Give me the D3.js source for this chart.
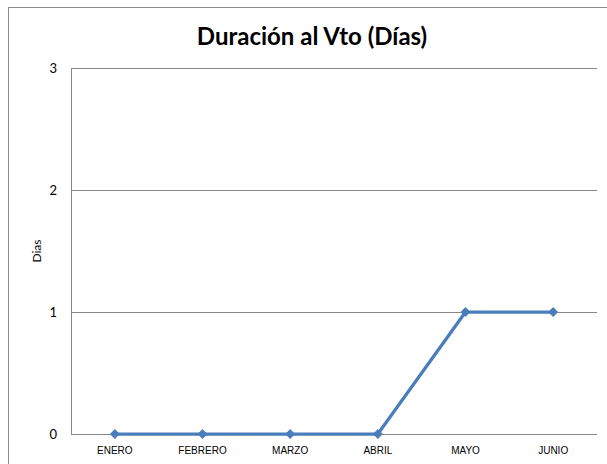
<!DOCTYPE html>
<html>
<head>
<meta charset="utf-8">
<script src="https://cdn.jsdelivr.net/npm/d3@7"></script>
<style>
  body { margin: 0; background: #fff; }
  svg { display: block; }
</style>
</head>
<body>
<div id="chart"></div>
<script>
const width = 607;
const height = 464;

// datos
const meses = ["ENERO", "FEBRERO", "MARZO", "ABRIL", "MAYO", "JUNIO"];
const dias = [0, 0, 0, 0, 1, 1];
const yTicks = [0, 1, 2, 3];

const margin = { top: 68, right: 10, bottom: 30, left: 71 };
const plotW = 526;
const plotH = 366;

const svg = d3.select("#chart")
  .append("svg")
  .attr("width", width)
  .attr("height", height);

// borde exterior (cortado por la imagen)
svg.append("rect")
  .attr("x", 8.5)
  .attr("y", 7.5)
  .attr("width", 640)
  .attr("height", 500)
  .attr("fill", "none")
  .attr("stroke", "#8c8c8c")
  .attr("stroke-width", 1);

const g = svg.append("g")
  .attr("transform", `translate(${margin.left},${margin.top})`);

const x = d3.scaleBand()
  .domain(meses)
  .range([0, plotW]);

const y = d3.scaleLinear()
  .domain([0, 3])
  .range([plotH, 0]);

// lineas de grilla
g.selectAll("line.grid")
  .data(yTicks)
  .enter()
  .append("line")
  .attr("class", "grid")
  .attr("x1", 0)
  .attr("x2", plotW)
  .attr("y1", d => Math.round(y(d)) + 0.5)
  .attr("y2", d => Math.round(y(d)) + 0.5)
  .attr("stroke", "#888")
  .attr("stroke-width", 1);

// eje vertical
g.append("line")
  .attr("x1", 0.5).attr("x2", 0.5)
  .attr("y1", 0).attr("y2", plotH)
  .attr("stroke", "#888");

// etiquetas eje y
g.selectAll("text.ytick")
  .data(yTicks)
  .enter()
  .append("text")
  .attr("x", -14)
  .attr("y", d => y(d))
  .attr("dy", "0.35em")
  .attr("text-anchor", "end")
  .style("font-family", "Lato, 'Open Sans', sans-serif")
  .style("font-size", "13px")
  .attr("fill", "#000")
  .text(d => d);

// etiquetas eje x
g.selectAll("text.xtick")
  .data(meses)
  .enter()
  .append("text")
  .attr("x", d => x(d) + x.bandwidth() / 2)
  .attr("y", plotH + 20)
  .attr("text-anchor", "middle")
  .style("font-family", "'Liberation Sans Narrow', 'Liberation Sans', sans-serif")
  .style("font-size", "10px")
  .attr("fill", "#000")
  .text(d => d);

// titulo eje y
svg.append("text")
  .attr("transform", `translate(41, ${margin.top + plotH / 2}) rotate(-90)`)
  .attr("text-anchor", "middle")
  .style("font-family", "Lato, 'Open Sans', sans-serif")
  .style("font-size", "12px")
  .text("Dias");

// titulo
svg.append("text")
  .attr("x", 312)
  .attr("y", 45)
  .attr("text-anchor", "middle")
  .style("font-family", "Lato, 'Open Sans', sans-serif")
  .style("font-weight", "bold")
  .style("font-size", "24px")
  .text("Duración al Vto (Días)");

// serie
const line = d3.line()
  .x((d, i) => x(meses[i]) + x.bandwidth() / 2)
  .y(d => y(d));

g.append("path")
  .datum(dias)
  .attr("d", line)
  .attr("fill", "none")
  .attr("stroke", "#4a7ebb")
  .attr("stroke-width", 3.25)
  .attr("stroke-linejoin", "round");

g.selectAll("path.marker")
  .data(dias)
  .enter()
  .append("path")
  .attr("class", "marker")
  .attr("d", d3.symbol().type(d3.symbolDiamond2).size(62))
  .attr("transform", (d, i) => `translate(${x(meses[i]) + x.bandwidth() / 2},${y(d)})`)
  .attr("fill", "#4a7ebb");
</script>
</body>
</html>
